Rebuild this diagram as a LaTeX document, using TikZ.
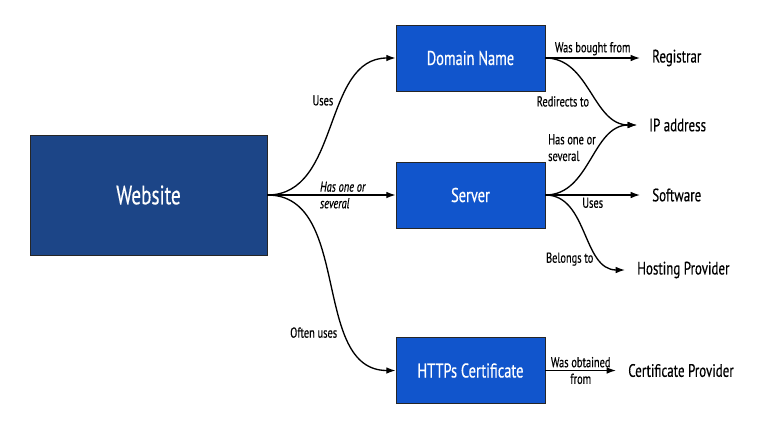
\documentclass[tikz,border=0pt]{standalone}
\usepackage{fontspec}
\setmainfont[FakeStretch=0.72,FakeBold=0.4]{PT Sans}
\usetikzlibrary{arrows.meta}
\definecolor{navy}{HTML}{1C4587}
\definecolor{blu}{HTML}{1155CC}
\tikzset{
	box/.style={shape=rectangle, draw=black!85, line width=0.6pt, fill=blu, text=white, minimum width=111.75pt, minimum height=49.5pt, font=\fontsize{15}{18}\selectfont},
	target/.style={shape=rectangle, anchor=west, inner xsep=9pt, font=\fontsize{13.5}{16}\selectfont},
	lbl/.style={font=\fontsize{10.8}{12.5}\selectfont, inner sep=1.5pt},
	lblit/.style={lbl, font=\fontsize{10.8}{12.5}\selectfont\itshape},
	link/.style={-{Latex[length=7pt,width=5pt]}, line width=1pt},
}
\begin{document}
\begin{tikzpicture}[x=0.75pt,y=-0.75pt]
	\useasboundingbox (0,0) rectangle (771,444);
	\node[box,fill=navy,minimum width=177.75pt,minimum height=90pt,font=\fontsize{20}{24}\selectfont](web) at (148.5,195){Website};
	\node[box](dn) at (470.5,58){Domain Name};
	\node[box](srv) at (470.5,195){Server};
	\node[box](https) at (470.5,370.5){HTTPs Certificate};
	\node[target](reg) at (640,58){Registrar};
	\node[target](ip) at (637,125){IP address};
	\node[target](soft) at (640,195){Software};
	\node[target](host) at (625,270){Hosting Provider};
	\node[target](cert) at (616,370.5){Certificate Provider};
	\draw[link] (web.east) to[out=0,in=180] node[lbl,pos=0.63,left=5pt]{Uses} (dn.west);
	\draw[link] (web.east) -- node[lblit,pos=0.39,anchor=west,align=left]{Has one or\\several} (srv.west);
	\draw[link] (web.east) to[out=0,in=180] node[lbl,pos=0.7,left=5pt]{Often uses} (https.west);
	\draw[link] (dn.east) -- node[lbl,above]{Was bought from} (reg.west);
	\draw[link] (dn.east) to[out=0,in=180] node[lbl,pos=0.6,left=5pt]{Redirects to} (ip.west);
	\draw[link] (srv.east) to[out=0,in=180] node[lbl,pos=0.62,left=1pt,align=left]{Has one or\\several} (ip.west);
	\draw[link] (srv.east) -- node[lbl,below]{Uses} (soft.west);
	\draw[link] (srv.east) to[out=0,in=180] node[lbl,pos=0.76,left=4pt]{Belongs to} (host.west);
	\draw[link] (https.east) -- node[lbl,align=center]{Was obtained\\from} (cert.west);
\end{tikzpicture}
\end{document}
